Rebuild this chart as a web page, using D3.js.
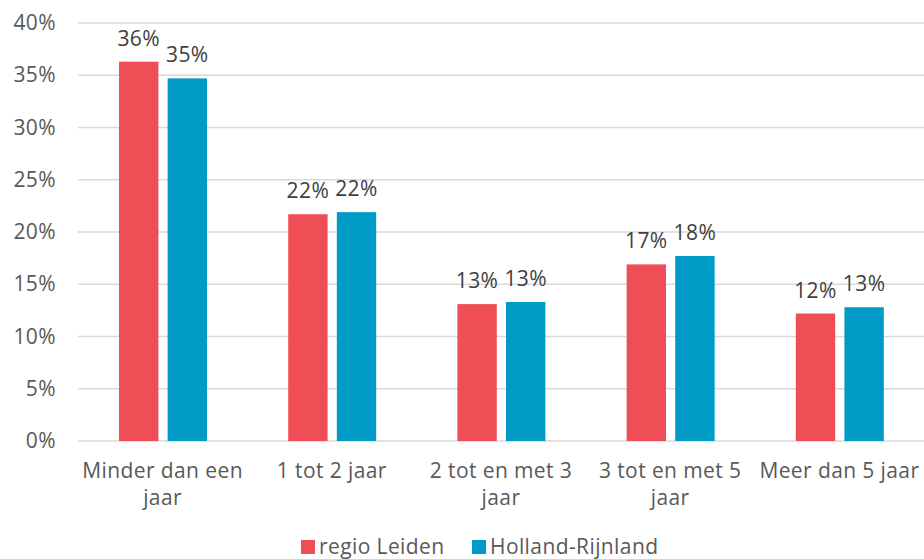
<!DOCTYPE html>
<html>
<head>
<meta charset="utf-8">
<script src="https://cdn.jsdelivr.net/npm/d3@7"></script>
<style>
  body { margin: 0; background: #fff; }
  svg { font-family: "Open Sans", "Liberation Sans", sans-serif; letter-spacing: 0.4px; }
</style>
</head>
<body>
<svg id="chart"></svg>
<script>
// data
var categories = ["Minder dan een jaar", "1 tot 2 jaar", "2 tot en met 3 jaar", "3 tot en met 5 jaar", "Meer dan 5 jaar"]
var seriesNames = ["regio Leiden", "Holland-Rijnland"]
var leiden = [36.3, 21.7, 13.1, 16.9, 12.2]
var hollandRijnland = [34.7, 21.9, 13.3, 17.7, 12.8]
var yTicks = [0, 5, 10, 15, 20, 25, 30, 35, 40]

var colors = ["#F04E56", "#009AC7"]

var dimensions = {
  width: 924,
  height: 559,
  margin: { top: 23, bottom: 118, right: 0, left: 78 }
}

var svg = d3.select("#chart")
  .attr("width", dimensions.width)
  .attr("height", dimensions.height)

var xScale = d3.scaleBand()
  .domain(categories)
  .range([dimensions.margin.left, dimensions.width - dimensions.margin.right])

var xInner = d3.scaleBand()
  .domain(seriesNames)
  .range([41, 129])
  .paddingInner(0.19)

var yScale = d3.scaleLinear()
  .domain([0, 40])
  .range([dimensions.height - dimensions.margin.bottom, dimensions.margin.top])

// gridlines
svg.append("g")
  .selectAll("line")
  .data(yTicks)
  .enter().append("line")
  .attr("x1", dimensions.margin.left)
  .attr("x2", dimensions.width - dimensions.margin.right)
  .attr("y1", d => yScale(d))
  .attr("y2", d => yScale(d))
  .attr("stroke", "#d9d9d9")
  .attr("stroke-width", 1.5)

// y axis
var yAxis = svg.append("g")
  .attr("transform", `translate(${dimensions.margin.left},0)`)
  .call(d3.axisLeft(yScale).tickValues(yTicks).tickFormat(d => d + "%").tickSize(0).tickPadding(22))
yAxis.select(".domain").remove()
yAxis.selectAll("text")
  .attr("fill", "#595959")
  .style("font-family", "Open Sans")
  .style("font-size", "21px")

var rows = categories.map((c, i) => ({ cat: c, values: [leiden[i], hollandRijnland[i]] }))

var groups = svg.selectAll("g.cat")
  .data(rows)
  .enter().append("g")
  .attr("class", "cat")
  .attr("transform", d => `translate(${xScale(d.cat)},0)`)

groups.selectAll("rect")
  .data(d => d.values.map((v, j) => ({ name: seriesNames[j], value: v, j: j })))
  .enter().append("rect")
  .attr("x", d => xInner(d.name))
  .attr("y", d => yScale(d.value))
  .attr("width", xInner.bandwidth())
  .attr("height", d => yScale(0) - yScale(d.value))
  .attr("fill", d => colors[d.j])

groups.selectAll("text.lbl")
  .data(d => d.values.map((v, j) => ({ name: seriesNames[j], value: v })))
  .enter().append("text")
  .attr("class", "lbl")
  .attr("x", d => xInner(d.name) + xInner.bandwidth() / 2)
  .attr("y", d => yScale(d.value) - 16)
  .attr("text-anchor", "middle")
  .attr("fill", "#404040")
  .style("font-size", "21px")
  .text(d => Math.round(d.value) + "%")

// x axis labels (wrapped)
var catLines = {
  "Minder dan een jaar": ["Minder dan een", "jaar"],
  "1 tot 2 jaar": ["1 tot 2 jaar"],
  "2 tot en met 3 jaar": ["2 tot en met 3", "jaar"],
  "3 tot en met 5 jaar": ["3 tot en met 5", "jaar"],
  "Meer dan 5 jaar": ["Meer dan 5 jaar"]
}
var xLabels = svg.append("g")
  .selectAll("text")
  .data(categories)
  .enter().append("text")
  .attr("x", d => xScale(d) + xScale.bandwidth() / 2)
  .attr("y", 478)
  .attr("text-anchor", "middle")
  .attr("fill", "#595959")
  .style("font-size", "21px")
xLabels.selectAll("tspan")
  .data(d => catLines[d])
  .enter().append("tspan")
  .attr("x", function() { return d3.select(this.parentNode).attr("x") })
  .attr("dy", (d, i) => i == 0 ? 0 : 27)
  .text(d => d)

// legend
var legendX = [301, 472]
var legend = svg.append("g")
  .selectAll("g")
  .data(seriesNames)
  .enter().append("g")
  .attr("transform", (d, i) => `translate(${legendX[i]},540)`)
legend.append("rect")
  .attr("x", 0)
  .attr("y", 0)
  .attr("width", 14)
  .attr("height", 14)
  .attr("fill", (d, i) => colors[i])
legend.append("text")
  .attr("x", 18)
  .attr("y", 14)
  .attr("fill", "#595959")
  .style("font-size", "21px")
  .text(d => d)
</script>
</body>
</html>
